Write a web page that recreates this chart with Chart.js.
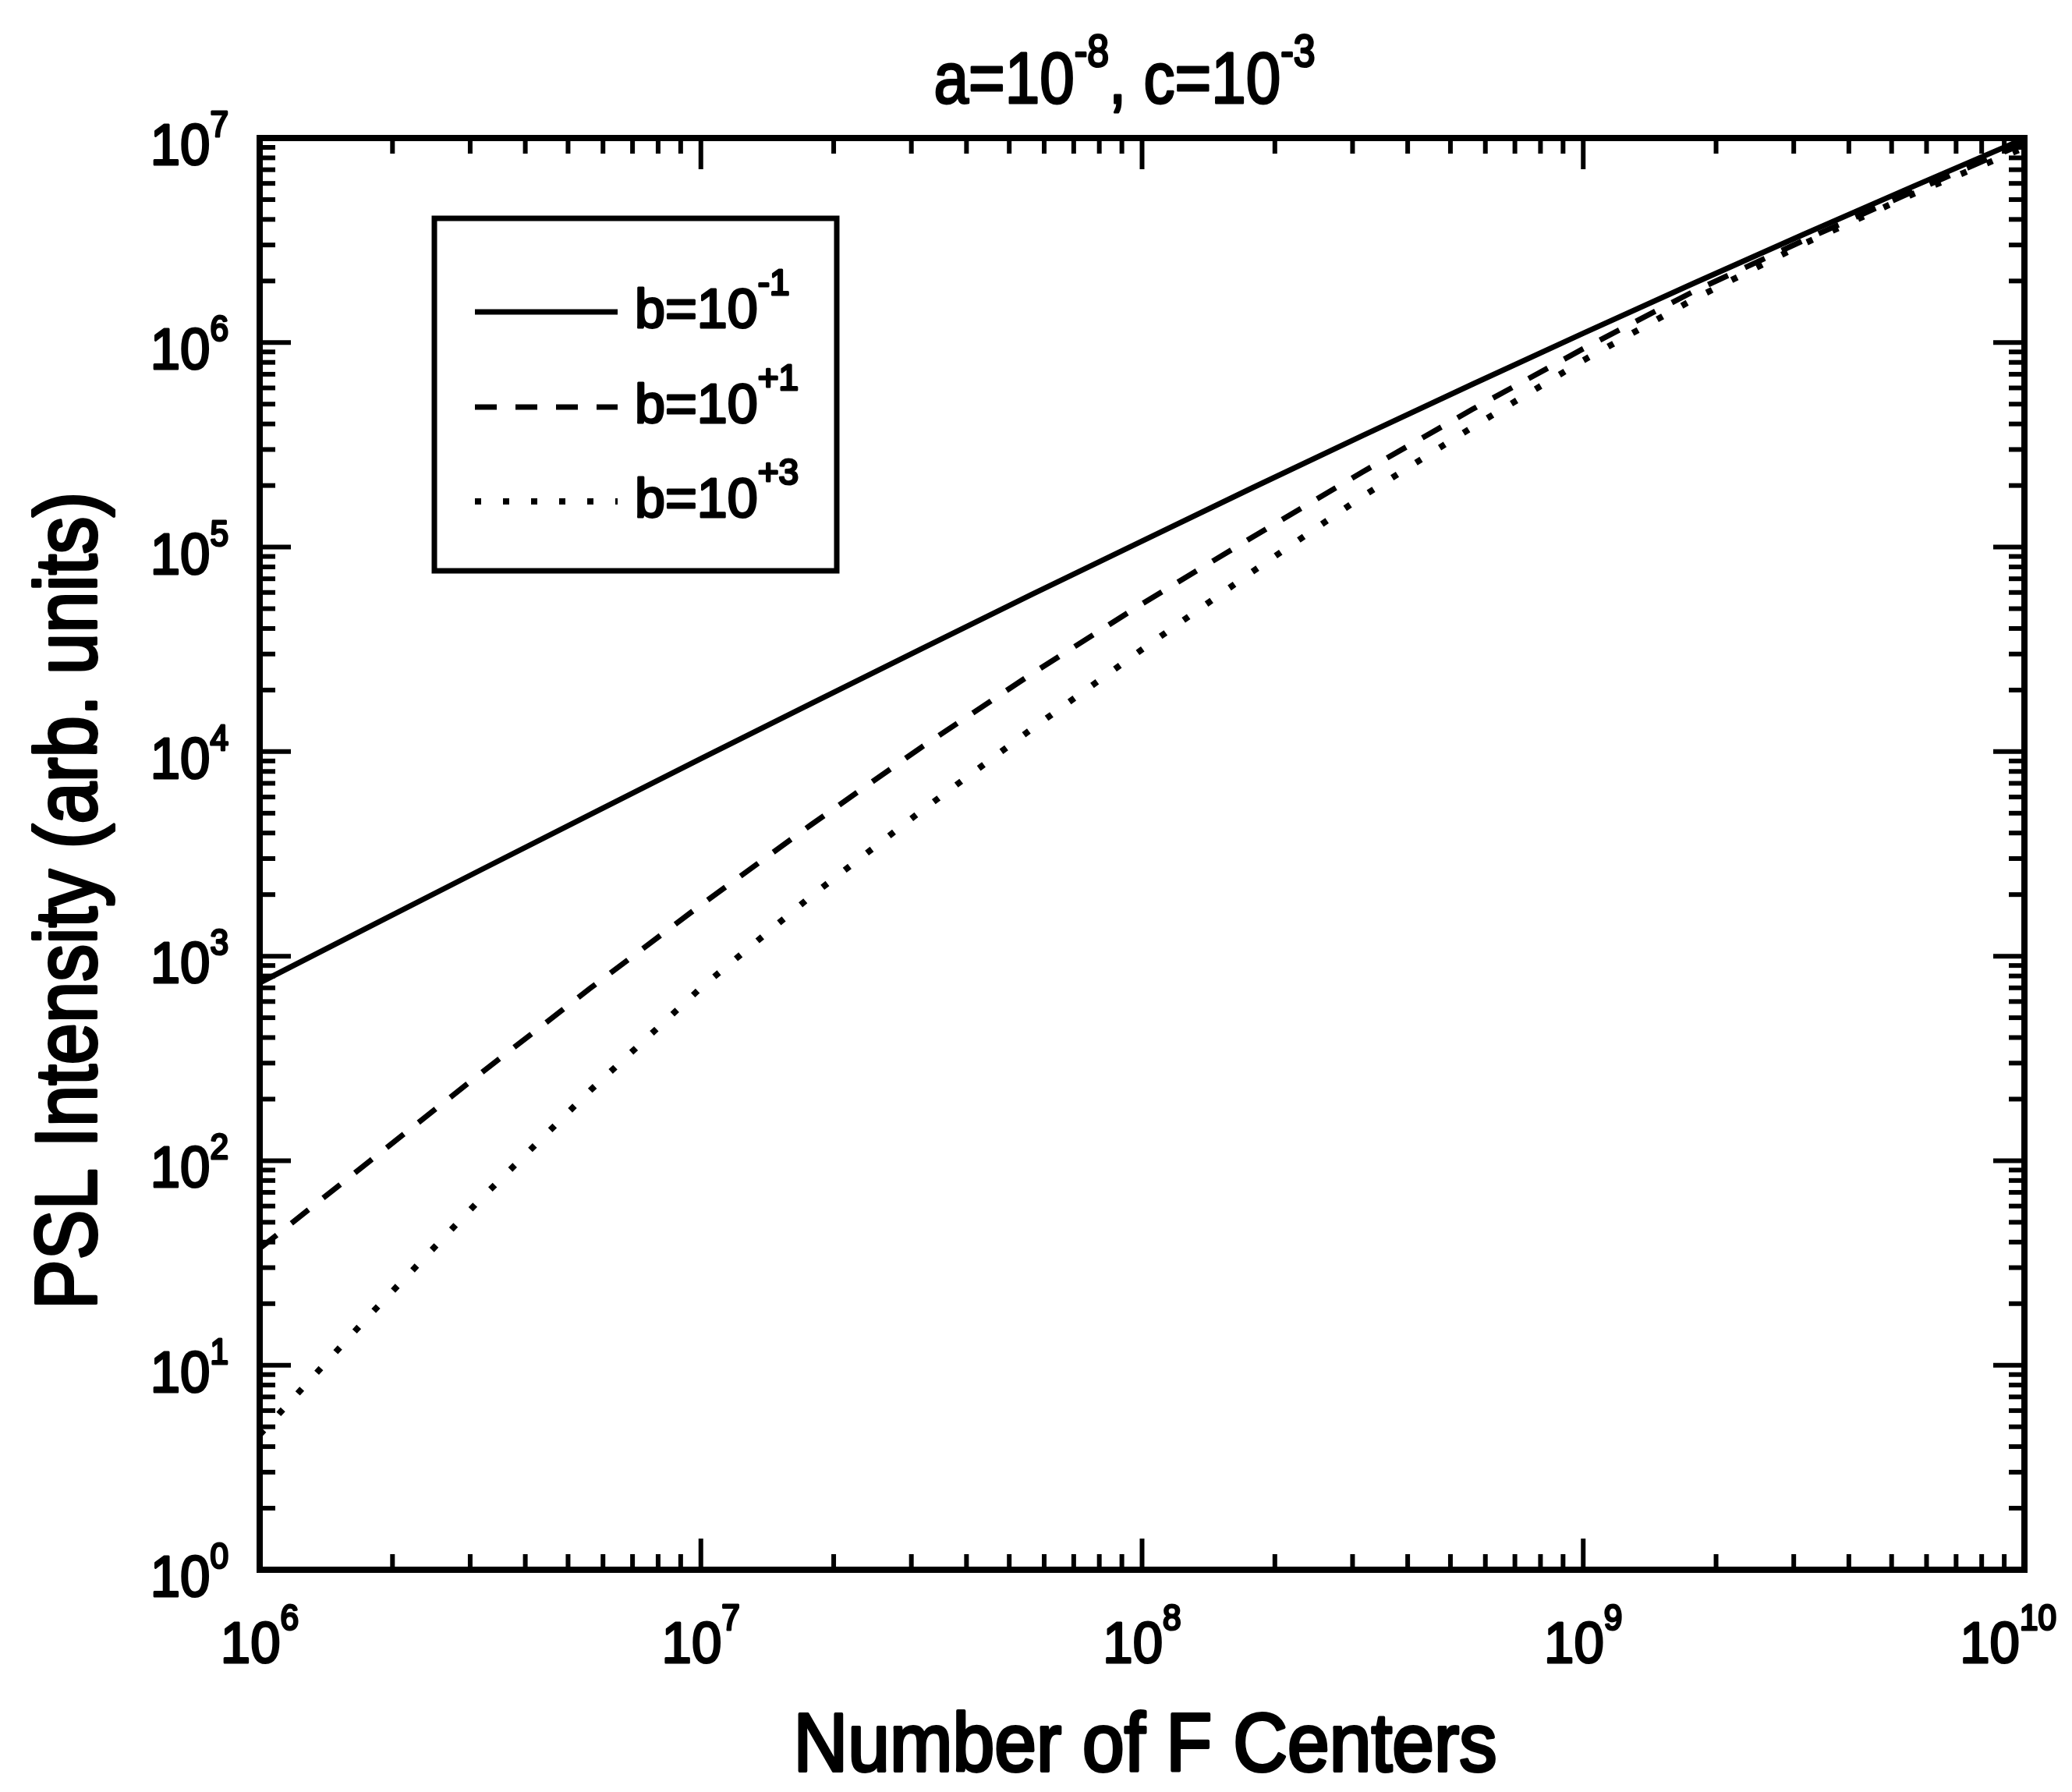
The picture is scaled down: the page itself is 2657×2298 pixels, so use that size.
<!DOCTYPE html>
<html>
<head>
<meta charset="utf-8">
<title>PSL Intensity vs Number of F Centers</title>
<script src="https://cdn.jsdelivr.net/npm/chart.js@4.4.1/dist/chart.umd.min.js"></script>
<style>
  html, body { margin: 0; padding: 0; background: #fff; }
  canvas { display: block; }
</style>
</head>
<body>
<canvas id="psl" width="2657" height="2298"></canvas>
<script>
// number of F centers (x) and PSL intensity for each b (y)
const fCenters = [1.00e6, 1.78e6, 3.16e6, 5.62e6, 1.00e7, 1.78e7, 3.16e7, 5.62e7, 1.00e8,
                  1.78e8, 3.16e8, 5.62e8, 1.00e9, 1.78e9, 3.16e9, 5.62e9, 1.00e10];
const pslBm1 = [741, 1400, 2630, 4930, 9230, 17200, 31800, 58600, 107000,
                195000, 351000, 627000, 1.11e6, 1.95e6, 3.38e6, 5.82e6, 9.93e6];
const pslBp1 = [37.2, 100, 266, 698, 1780, 4400, 10500, 24000, 52800,
                112000, 233000, 473000, 933000, 1.78e6, 3.16e6, 5.50e6, 9.44e6];
const pslBp3 = [4.57, 17.7, 64.6, 221, 700, 1970, 5130, 12900, 31600,
                75900, 177000, 387000, 818000, 1.63e6, 3.04e6, 5.35e6, 8.97e6];

const legendExps = ['-1', '+1', '+3'];
const xMajorTicks = [1e6, 1e7, 1e8, 1e9, 1e10];
const xTickExps = ['6', '7', '8', '9', '10'];
const yMajorTicks = [1e0, 1e1, 1e2, 1e3, 1e4, 1e5, 1e6, 1e7];
const yTickExps = ['0', '1', '2', '3', '4', '5', '6', '7'];
const minorSteps = [2, 3, 4, 5, 6, 7, 8, 9];

const FONT = "'Liberation Sans', Arial, Helvetica, sans-serif";

const toPoints = ys => fCenters.map((x, i) => ({x: x, y: ys[i]}));

// width of "base" + exponent once scaled
function supWidth(ctx, base, exp, opt) {
    ctx.font = opt.size + 'px ' + FONT;
    const wb = ctx.measureText(base).width;
    ctx.font = opt.supSize + 'px ' + FONT;
    const we = ctx.measureText(exp).width;
    return {wb: wb, total: (wb + we) * (opt.sx || 1)};
}

// draws "base" + raised exponent, aligned as a whole
function drawSup(ctx, base, exp, x, y, opt) {
    const sx = opt.sx || 1;
    const w = supWidth(ctx, base, exp, opt);
    let left = x;
    if (opt.align === 'center') left = x - w.total / 2;
    if (opt.align === 'right') left = x - w.total;
    if (opt.maxRight !== undefined && left + w.total > opt.maxRight) left = opt.maxRight - w.total;
    ctx.save();
    ctx.translate(left, y);
    ctx.scale(sx, 1);
    ctx.textBaseline = 'alphabetic';
    ctx.textAlign = 'left';
    ctx.fillStyle = '#000';
    ctx.strokeStyle = '#000';
    ctx.lineJoin = 'round';
    ctx.lineWidth = opt.stroke || 0;
    ctx.font = opt.size + 'px ' + FONT;
    ctx.fillText(base, 0, 0);
    if (opt.stroke) ctx.strokeText(base, 0, 0);
    ctx.font = opt.supSize + 'px ' + FONT;
    ctx.fillText(exp, w.wb, opt.supDy);
    if (opt.stroke) ctx.strokeText(exp, w.wb, opt.supDy);
    ctx.restore();
    return w.total;
}

function drawLabel(ctx, text, size, sx, stroke) {
    ctx.scale(sx, 1);
    ctx.font = size + 'px ' + FONT;
    ctx.fillStyle = '#000';
    ctx.strokeStyle = '#000';
    ctx.lineJoin = 'round';
    ctx.lineWidth = stroke;
    ctx.textAlign = 'center';
    ctx.textBaseline = 'alphabetic';
    ctx.fillText(text, 0, 0);
    ctx.strokeText(text, 0, 0);
}

const framePlugin = {
    id: 'framePlugin',
    afterDraw(chart) {
        const ctx = chart.ctx;
        const a = chart.chartArea;
        const xs = chart.scales.x;
        const ys = chart.scales.y;

        ctx.save();
        ctx.strokeStyle = '#000';
        ctx.lineCap = 'butt';

        // ticks on all four sides, pointing inwards
        ctx.lineWidth = 6;
        const tick = (x1, y1, x2, y2) => {
            ctx.beginPath();
            ctx.moveTo(x1, y1);
            ctx.lineTo(x2, y2);
            ctx.stroke();
        };
        xMajorTicks.forEach((v, i) => {
            const px = xs.getPixelForValue(v);
            tick(px, a.bottom, px, a.bottom - 40);
            tick(px, a.top, px, a.top + 40);
            if (i < xMajorTicks.length - 1) {
                minorSteps.forEach(m => {
                    const mx = xs.getPixelForValue(v * m);
                    tick(mx, a.bottom, mx, a.bottom - 20);
                    tick(mx, a.top, mx, a.top + 20);
                });
            }
        });
        yMajorTicks.forEach((v, i) => {
            const py = ys.getPixelForValue(v);
            tick(a.left, py, a.left + 40, py);
            tick(a.right, py, a.right - 40, py);
            if (i < yMajorTicks.length - 1) {
                minorSteps.forEach(m => {
                    const my = ys.getPixelForValue(v * m);
                    tick(a.left, my, a.left + 20, my);
                    tick(a.right, my, a.right - 20, my);
                });
            }
        });

        // axes box
        ctx.lineWidth = 8;
        ctx.strokeRect(a.left, a.top, a.right - a.left, a.bottom - a.top);

        // tick labels
        const tickFont = {size: 75, supSize: 46, sx: 0.92, stroke: 3};
        xMajorTicks.forEach((v, i) => {
            drawSup(ctx, '10', xTickExps[i], xs.getPixelForValue(v), a.bottom + 119,
                Object.assign({supDy: -42, align: 'center', maxRight: chart.width - 20}, tickFont));
        });
        yMajorTicks.forEach((v, i) => {
            const py = ys.getPixelForValue(v);
            drawSup(ctx, '10', yTickExps[i], a.left - 40, py + 34,
                Object.assign({supDy: -36, align: 'right'}, tickFont));
        });

        // title
        const titleFont = {size: 93, supSize: 58, supDy: -47, sx: 0.86, stroke: 3};
        const t1 = supWidth(ctx, 'a=10', '-8', titleFont).total;
        const t2 = supWidth(ctx, ', c=10', '-3', titleFont).total;
        const tLeft = a.left + 1109 - (t1 + t2) / 2;
        drawSup(ctx, 'a=10', '-8', tLeft, a.top - 45, titleFont);
        drawSup(ctx, ', c=10', '-3', tLeft + t1, a.top - 45, titleFont);

        // axis titles
        ctx.save();
        ctx.translate((a.left + a.right) / 2 + 4, a.bottom + 258);
        drawLabel(ctx, 'Number of F Centers', 105, 0.92, 4);
        ctx.restore();

        ctx.save();
        ctx.translate(a.left - 210, a.top + 978);
        ctx.rotate(-Math.PI / 2);
        drawLabel(ctx, 'PSL Intensity (arb. units)', 112, 0.855, 4);
        ctx.restore();

        // legend box
        const lx0 = a.left + 224, lx1 = a.left + 740;
        const ly0 = a.top + 103, ly1 = a.top + 555;
        ctx.fillStyle = '#fff';
        ctx.fillRect(lx0, ly0, lx1 - lx0, ly1 - ly0);
        ctx.lineWidth = 7;
        ctx.strokeStyle = '#000';
        ctx.strokeRect(lx0, ly0, lx1 - lx0, ly1 - ly0);

        const rows = [a.top + 223, a.top + 345, a.top + 466];
        chart.data.datasets.forEach((ds, i) => {
            const ry = rows[i];
            ctx.save();
            ctx.lineWidth = ds.borderWidth;
            ctx.setLineDash(ds.borderDash || []);
            ctx.beginPath();
            ctx.moveTo(a.left + 276, ry);
            ctx.lineTo(a.left + 459, ry);
            ctx.stroke();
            ctx.restore();
            drawSup(ctx, 'b=10', legendExps[i], a.left + 481, ry + 20,
                {size: 70, supSize: 46, supDy: -42, align: 'left', stroke: 3});
        });

        ctx.restore();
    }
};

new Chart(document.getElementById('psl'), {
    type: 'line',
    data: {
        datasets: [
            {
                label: 'b=10^-1',
                data: toPoints(pslBm1),
                borderColor: '#000',
                borderWidth: 7,
                borderDash: [],
                pointRadius: 0,
                fill: false
            },
            {
                label: 'b=10^+1',
                data: toPoints(pslBp1),
                borderColor: '#000',
                borderWidth: 7,
                borderDash: [28, 24],
                pointRadius: 0,
                fill: false
            },
            {
                label: 'b=10^+3',
                data: toPoints(pslBp3),
                borderColor: '#000',
                borderWidth: 8,
                borderDash: [8, 28],
                pointRadius: 0,
                fill: false
            }
        ]
    },
    options: {
        responsive: false,
        animation: false,
        layout: {
            padding: {left: 333, right: 61, top: 177, bottom: 285}
        },
        plugins: {
            legend: {display: false},
            title: {display: false},
            tooltip: {enabled: false}
        },
        scales: {
            x: {
                type: 'logarithmic',
                min: 1e6,
                max: 1e10,
                display: false
            },
            y: {
                type: 'logarithmic',
                min: 1,
                max: 1e7,
                display: false
            }
        }
    },
    plugins: [framePlugin]
});
</script>
</body>
</html>
